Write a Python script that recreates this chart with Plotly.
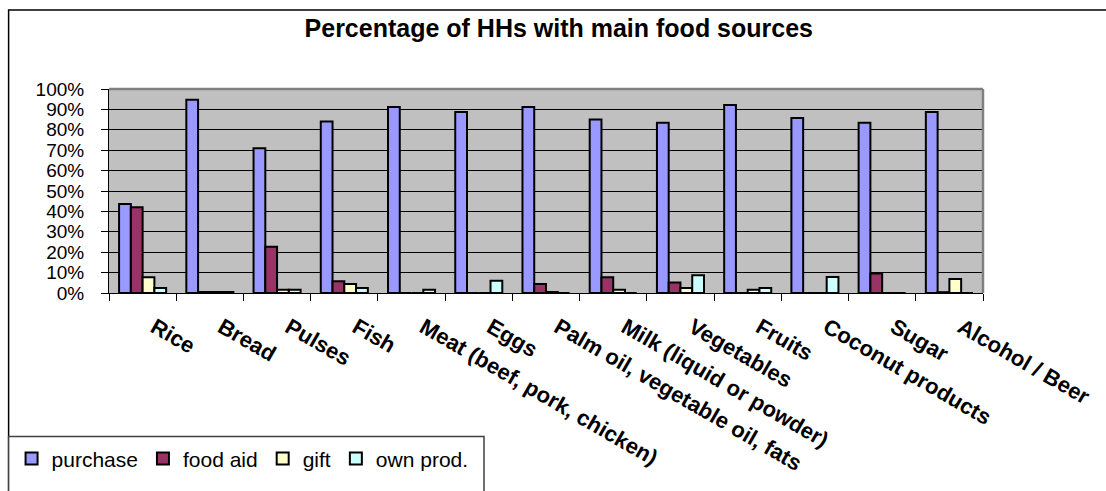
import plotly.graph_objects as go

# Food categories on the x axis
categories = [
    "Rice", "Bread", "Pulses", "Fish", "Meat (beef, pork, chicken)", "Eggs",
    "Palm oil, vegetable oil, fats", "Milk (liquid or powder)", "Vegetables",
    "Fruits", "Coconut products", "Sugar", "Alcohol / Beer",
]

# Share of households (%) by main food source
purchase = [43.6, 94.7, 71.0, 84.1, 91.2, 88.7, 91.2, 85.0, 83.5, 92.1, 85.8, 83.5, 88.7]
food_aid = [42.0, 0.5, 22.7, 5.8, 0, 0, 4.4, 7.7, 5.1, 0, 0, 9.6, 0.4]
gift = [7.7, 0.5, 1.6, 4.4, 0, 0, 0.5, 1.6, 2.5, 1.6, 0, 0, 6.9]
own_prod = [2.4, 0.5, 1.6, 2.5, 1.6, 6.0, 0, 0, 8.7, 2.5, 7.9, 0, 0]

y_ticks = list(range(0, 101, 10))

series = [
    ("purchase", purchase, "#9999FF"),
    ("food aid", food_aid, "#993366"),
    ("gift", gift, "#FFFFCC"),
    ("own prod.", own_prod, "#CCFFFF"),
]

FONT = "Liberation Sans, Arial, sans-serif"

fig = go.Figure()
for name, vals, color in series:
    fig.add_trace(go.Bar(
        name=name, x=categories, y=vals,
        marker=dict(color=color, line=dict(color="black", width=2)),
    ))

# plot-area geometry in pixels
W, H = 1106, 491
L, R, T, B = 109, 109, 89, 190
pw, ph = W - L - R, H - T - B


def px_x(x):
    return (x - L) / pw


def px_y(y):
    return (H - B - y) / ph


fig.update_layout(
    width=W, height=H, autosize=False,
    margin=dict(l=L, r=R, t=T, b=B),
    paper_bgcolor="white",
    plot_bgcolor="#C0C0C0",
    barmode="group",
    bargap=0.3,
    bargroupgap=0,
    font=dict(family=FONT, color="black"),
    title=dict(
        text="Percentage of HHs with main food sources",
        font=dict(family=FONT, size=25, color="black", weight="bold"),
        x=px_x(566), xref="paper", xanchor="center",
        y=1 - 28 / H, yref="container", yanchor="middle",
    ),
    xaxis=dict(
        tickangle=30,
        tickfont=dict(family=FONT, size=22, color="black", weight="bold"),
        ticks="outside", ticklen=7, tickcolor="black", tickwidth=1,
        tickson="boundaries",
        ticklabelstandoff=12,
        ticklabelshift=12,
        showline=True, linecolor="black", linewidth=1,
        showgrid=False,
        fixedrange=True,
    ),
    yaxis=dict(
        range=[0, 100],
        tickvals=y_ticks,
        ticktext=[f"{v}%" for v in y_ticks],
        tickfont=dict(family=FONT, size=19, color="black"),
        ticks="outside", ticklen=7, tickcolor="black", tickwidth=1,
        ticklabelstandoff=13,
        showline=True, linecolor="black", linewidth=1,
        showgrid=True, gridcolor="black", gridwidth=1,
        zeroline=False,
        fixedrange=True,
    ),
    legend=dict(
        orientation="h",
        x=px_x(10), xanchor="left",
        y=px_y(452), yanchor="top",
        font=dict(family=FONT, size=21, color="black"),
        bgcolor="rgba(0,0,0,0)",
        traceorder="normal",
        itemclick=False, itemdoubleclick=False,
    ),
    shapes=[
        # chart frame
        dict(type="rect", xref="paper", yref="paper",
             x0=px_x(7), x1=px_x(1130), y0=px_y(7), y1=px_y(520),
             line=dict(color="black", width=1.5), fillcolor="rgba(0,0,0,0)",
             layer="below"),
        # legend box
        dict(type="rect", xref="paper", yref="paper",
             x0=px_x(7), x1=px_x(490), y0=px_y(450), y1=px_y(520),
             line=dict(color="#404040", width=1.5), fillcolor="white",
             layer="below"),
        # plot-area border (top and right in grey)
        dict(type="line", xref="paper", yref="paper",
             x0=0, x1=1, y0=1, y1=1, line=dict(color="#808080", width=2.5)),
        dict(type="line", xref="paper", yref="paper",
             x0=1, x1=1, y0=0, y1=1, line=dict(color="#808080", width=2.5)),
    ],
)

fig.write_html("out.html")
